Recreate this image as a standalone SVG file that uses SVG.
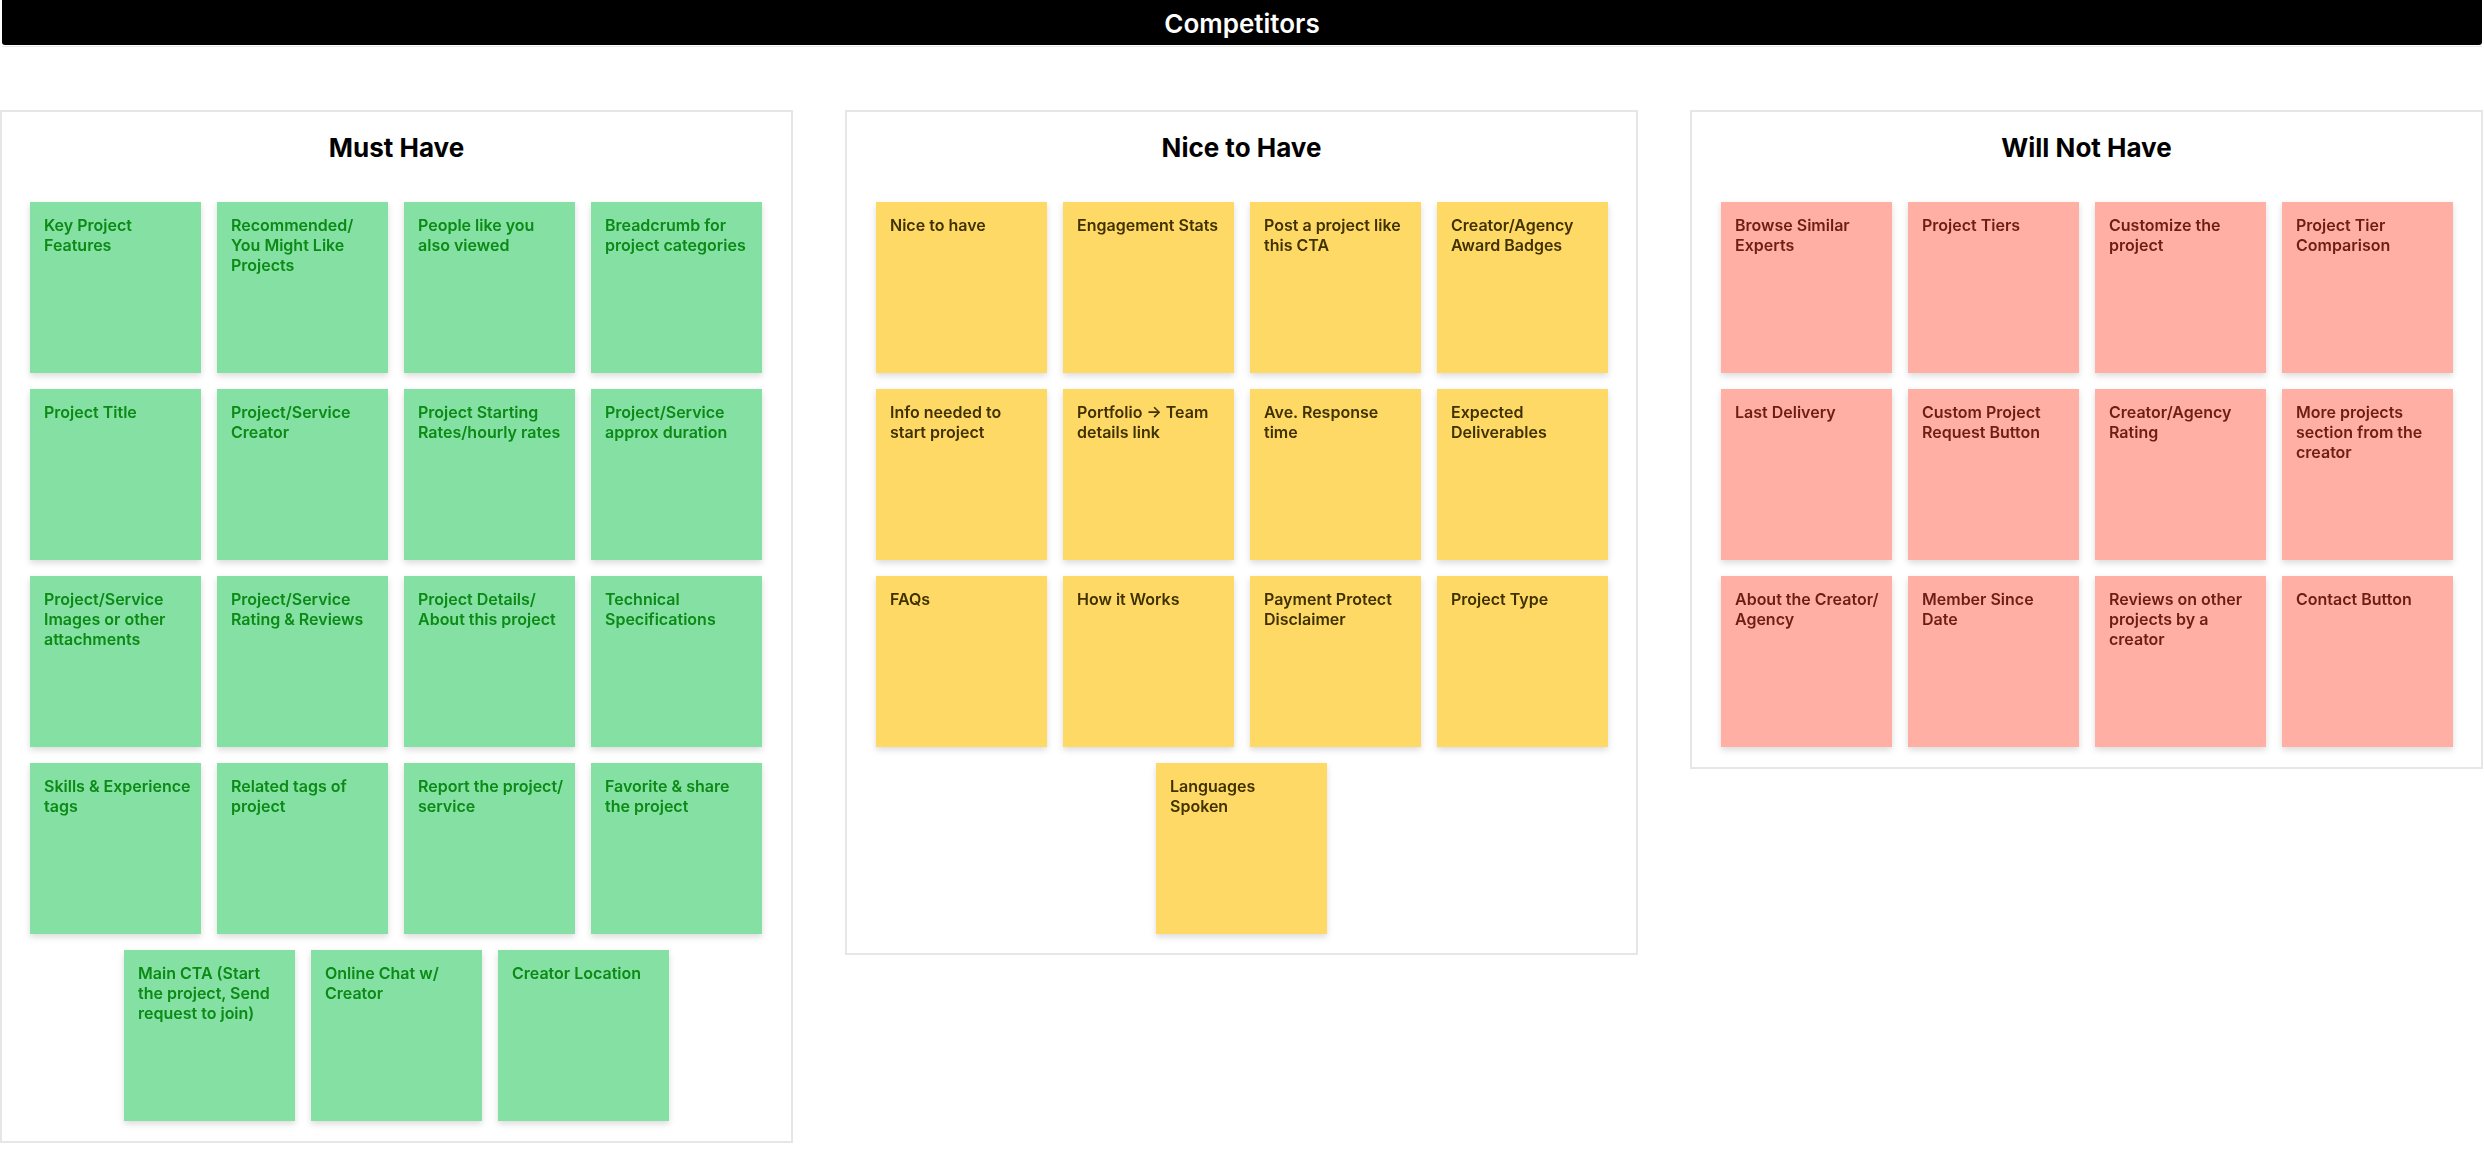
<svg xmlns="http://www.w3.org/2000/svg" width="2484" height="1157" viewBox="0 0 2484 1157">
<defs>
<filter id="sh" x="-10%" y="-10%" width="120%" height="125%">
<feDropShadow dx="0" dy="3" stdDeviation="3" flood-color="#000" flood-opacity="0.14"/>
</filter>
<style>
.panel{fill:#fff;stroke:#e6e6e6;stroke-width:2}
.h{font-family:Inter,"Liberation Sans",sans-serif;font-weight:700;font-size:26px;fill:#000;text-anchor:middle}
.st{filter:url(#sh)}
.g rect{fill:#85E0A3}
.y rect{fill:#FFD966}
.r rect{fill:#FFAFA3}
.t{font-family:Inter,"Liberation Sans",sans-serif;font-weight:600;font-size:16px}
.g .t{fill:#0a8a16}
.y .t{fill:#3f3200}
.r .t{fill:#6e1e16}
</style>
</defs>
<rect width="2484" height="1157" fill="#fff"/>
<g id="title">
<path d="M2 0H2482V42Q2482 45 2479 45H5Q2 45 2 42Z" fill="#000"/>
<line x1="2" y1="46.5" x2="2482" y2="46.5" stroke="#e8e8e8" stroke-width="1"/>
<text x="1242" y="33" font-family="Inter,'Liberation Sans',sans-serif" font-weight="600" font-size="26" fill="#fff" text-anchor="middle">Competitors</text>
</g>

<g id="panel-must">
<rect class="panel" x="1" y="111" width="791" height="1031"/>
<text class="h" x="396.5" y="157">Must Have</text>
</g>
<g id="panel-nice">
<rect class="panel" x="846" y="111" width="791" height="843"/>
<text class="h" x="1241.5" y="157">Nice to Have</text>
</g>
<g id="panel-will">
<rect class="panel" x="1691" y="111" width="791" height="657"/>
<text class="h" x="2086.5" y="157">Will Not Have</text>
</g>

<g id="connectors"></g>

<!-- Must Have -->
<g id="m1" class="st g"><rect x="30" y="202" width="171" height="171"/><text class="t" x="44" y="231">Key Project<tspan x="44" dy="20">Features</tspan></text></g>
<g id="m2" class="st g"><rect x="217" y="202" width="171" height="171"/><text class="t" x="231" y="231">Recommended/<tspan x="231" dy="20">You Might Like</tspan><tspan x="231" dy="20">Projects</tspan></text></g>
<g id="m3" class="st g"><rect x="404" y="202" width="171" height="171"/><text class="t" x="418" y="231">People like you<tspan x="418" dy="20">also viewed</tspan></text></g>
<g id="m4" class="st g"><rect x="591" y="202" width="171" height="171"/><text class="t" x="605" y="231">Breadcrumb for<tspan x="605" dy="20">project categories</tspan></text></g>

<g id="m5" class="st g"><rect x="30" y="389" width="171" height="171"/><text class="t" x="44" y="418">Project Title</text></g>
<g id="m6" class="st g"><rect x="217" y="389" width="171" height="171"/><text class="t" x="231" y="418">Project/Service<tspan x="231" dy="20">Creator</tspan></text></g>
<g id="m7" class="st g"><rect x="404" y="389" width="171" height="171"/><text class="t" x="418" y="418">Project Starting<tspan x="418" dy="20">Rates/hourly rates</tspan></text></g>
<g id="m8" class="st g"><rect x="591" y="389" width="171" height="171"/><text class="t" x="605" y="418">Project/Service<tspan x="605" dy="20">approx duration</tspan></text></g>

<g id="m9" class="st g"><rect x="30" y="576" width="171" height="171"/><text class="t" x="44" y="605">Project/Service<tspan x="44" dy="20">Images or other</tspan><tspan x="44" dy="20">attachments</tspan></text></g>
<g id="m10" class="st g"><rect x="217" y="576" width="171" height="171"/><text class="t" x="231" y="605">Project/Service<tspan x="231" dy="20">Rating &amp; Reviews</tspan></text></g>
<g id="m11" class="st g"><rect x="404" y="576" width="171" height="171"/><text class="t" x="418" y="605">Project Details/<tspan x="418" dy="20">About this project</tspan></text></g>
<g id="m12" class="st g"><rect x="591" y="576" width="171" height="171"/><text class="t" x="605" y="605">Technical<tspan x="605" dy="20">Specifications</tspan></text></g>

<g id="m13" class="st g"><rect x="30" y="763" width="171" height="171"/><text class="t" x="44" y="792">Skills &amp; Experience<tspan x="44" dy="20">tags</tspan></text></g>
<g id="m14" class="st g"><rect x="217" y="763" width="171" height="171"/><text class="t" x="231" y="792">Related tags of<tspan x="231" dy="20">project</tspan></text></g>
<g id="m15" class="st g"><rect x="404" y="763" width="171" height="171"/><text class="t" x="418" y="792">Report the project/<tspan x="418" dy="20">service</tspan></text></g>
<g id="m16" class="st g"><rect x="591" y="763" width="171" height="171"/><text class="t" x="605" y="792">Favorite &amp; share<tspan x="605" dy="20">the project</tspan></text></g>

<g id="m17" class="st g"><rect x="124" y="950" width="171" height="171"/><text class="t" x="138" y="979">Main CTA (Start<tspan x="138" dy="20">the project, Send</tspan><tspan x="138" dy="20">request to join)</tspan></text></g>
<g id="m18" class="st g"><rect x="311" y="950" width="171" height="171"/><text class="t" x="325" y="979">Online Chat w/<tspan x="325" dy="20">Creator</tspan></text></g>
<g id="m19" class="st g"><rect x="498" y="950" width="171" height="171"/><text class="t" x="512" y="979">Creator Location</text></g>

<!-- Nice to Have -->
<g id="n1" class="st y"><rect x="876" y="202" width="171" height="171"/><text class="t" x="890" y="231">Nice to have</text></g>
<g id="n2" class="st y"><rect x="1063" y="202" width="171" height="171"/><text class="t" x="1077" y="231">Engagement Stats</text></g>
<g id="n3" class="st y"><rect x="1250" y="202" width="171" height="171"/><text class="t" x="1264" y="231">Post a project like<tspan x="1264" dy="20">this CTA</tspan></text></g>
<g id="n4" class="st y"><rect x="1437" y="202" width="171" height="171"/><text class="t" x="1451" y="231">Creator/Agency<tspan x="1451" dy="20">Award Badges</tspan></text></g>

<g id="n5" class="st y"><rect x="876" y="389" width="171" height="171"/><text class="t" x="890" y="418">Info needed to<tspan x="890" dy="20">start project</tspan></text></g>
<g id="n6" class="st y"><rect x="1063" y="389" width="171" height="171"/><text class="t" x="1077" y="418">Portfolio → Team<tspan x="1077" dy="20">details link</tspan></text></g>
<g id="n7" class="st y"><rect x="1250" y="389" width="171" height="171"/><text class="t" x="1264" y="418">Ave. Response<tspan x="1264" dy="20">time</tspan></text></g>
<g id="n8" class="st y"><rect x="1437" y="389" width="171" height="171"/><text class="t" x="1451" y="418">Expected<tspan x="1451" dy="20">Deliverables</tspan></text></g>

<g id="n9" class="st y"><rect x="876" y="576" width="171" height="171"/><text class="t" x="890" y="605">FAQs</text></g>
<g id="n10" class="st y"><rect x="1063" y="576" width="171" height="171"/><text class="t" x="1077" y="605">How it Works</text></g>
<g id="n11" class="st y"><rect x="1250" y="576" width="171" height="171"/><text class="t" x="1264" y="605">Payment Protect<tspan x="1264" dy="20">Disclaimer</tspan></text></g>
<g id="n12" class="st y"><rect x="1437" y="576" width="171" height="171"/><text class="t" x="1451" y="605">Project Type</text></g>

<g id="n13" class="st y"><rect x="1156" y="763" width="171" height="171"/><text class="t" x="1170" y="792">Languages<tspan x="1170" dy="20">Spoken</tspan></text></g>

<!-- Will Not Have -->
<g id="w1" class="st r"><rect x="1721" y="202" width="171" height="171"/><text class="t" x="1735" y="231">Browse Similar<tspan x="1735" dy="20">Experts</tspan></text></g>
<g id="w2" class="st r"><rect x="1908" y="202" width="171" height="171"/><text class="t" x="1922" y="231">Project Tiers</text></g>
<g id="w3" class="st r"><rect x="2095" y="202" width="171" height="171"/><text class="t" x="2109" y="231">Customize the<tspan x="2109" dy="20">project</tspan></text></g>
<g id="w4" class="st r"><rect x="2282" y="202" width="171" height="171"/><text class="t" x="2296" y="231">Project Tier<tspan x="2296" dy="20">Comparison</tspan></text></g>

<g id="w5" class="st r"><rect x="1721" y="389" width="171" height="171"/><text class="t" x="1735" y="418">Last Delivery</text></g>
<g id="w6" class="st r"><rect x="1908" y="389" width="171" height="171"/><text class="t" x="1922" y="418">Custom Project<tspan x="1922" dy="20">Request Button</tspan></text></g>
<g id="w7" class="st r"><rect x="2095" y="389" width="171" height="171"/><text class="t" x="2109" y="418">Creator/Agency<tspan x="2109" dy="20">Rating</tspan></text></g>
<g id="w8" class="st r"><rect x="2282" y="389" width="171" height="171"/><text class="t" x="2296" y="418">More projects<tspan x="2296" dy="20">section from the</tspan><tspan x="2296" dy="20">creator</tspan></text></g>

<g id="w9" class="st r"><rect x="1721" y="576" width="171" height="171"/><text class="t" x="1735" y="605">About the Creator/<tspan x="1735" dy="20">Agency</tspan></text></g>
<g id="w10" class="st r"><rect x="1908" y="576" width="171" height="171"/><text class="t" x="1922" y="605">Member Since<tspan x="1922" dy="20">Date</tspan></text></g>
<g id="w11" class="st r"><rect x="2095" y="576" width="171" height="171"/><text class="t" x="2109" y="605">Reviews on other<tspan x="2109" dy="20">projects by a</tspan><tspan x="2109" dy="20">creator</tspan></text></g>
<g id="w12" class="st r"><rect x="2282" y="576" width="171" height="171"/><text class="t" x="2296" y="605">Contact Button</text></g>
</svg>
